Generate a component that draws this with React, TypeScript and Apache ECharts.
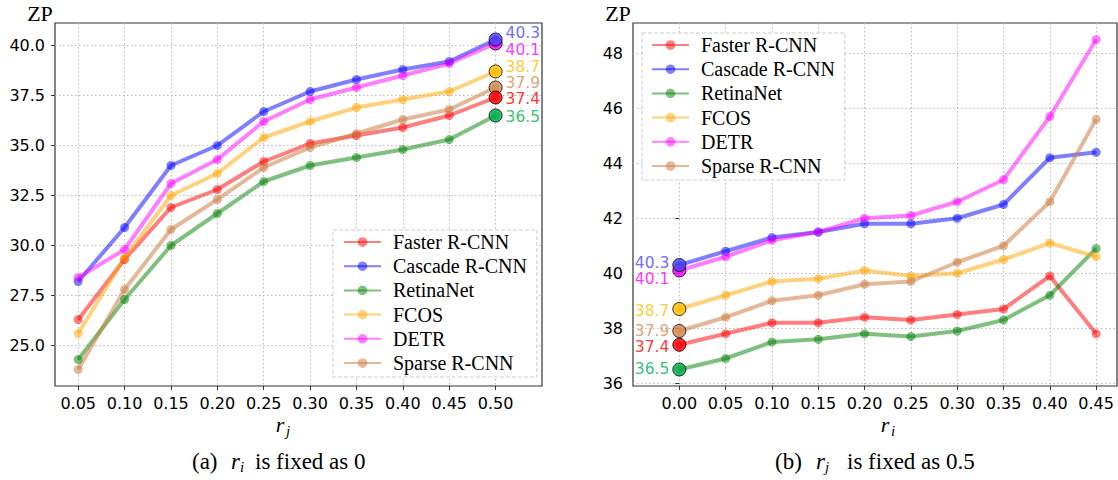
import React, { useEffect, useRef } from "react";
import * as echarts from "echarts";

const seriesNames = ["Faster R-CNN", "Cascade R-CNN", "RetinaNet", "FCOS", "DETR", "Sparse R-CNN"];

const xLeft = [0.05, 0.1, 0.15, 0.2, 0.25, 0.3, 0.35, 0.4, 0.45, 0.5];
const xRight = [0.0, 0.05, 0.1, 0.15, 0.2, 0.25, 0.3, 0.35, 0.4, 0.45];

const leftFaster = [26.3, 29.3, 31.9, 32.8, 34.2, 35.1, 35.5, 35.9, 36.5, 37.4];
const leftCascade = [28.2, 30.9, 34.0, 35.0, 36.7, 37.7, 38.3, 38.8, 39.2, 40.3];
const leftRetina = [24.3, 27.3, 30.0, 31.6, 33.2, 34.0, 34.4, 34.8, 35.3, 36.5];
const leftFcos = [25.6, 29.4, 32.5, 33.6, 35.4, 36.2, 36.9, 37.3, 37.7, 38.7];
const leftDetr = [28.4, 29.8, 33.1, 34.3, 36.2, 37.3, 37.9, 38.5, 39.1, 40.1];
const leftSparse = [23.8, 27.8, 30.8, 32.3, 33.9, 34.9, 35.6, 36.3, 36.8, 37.9];

const rightFaster = [37.4, 37.8, 38.2, 38.2, 38.4, 38.3, 38.5, 38.7, 39.9, 37.8];
const rightCascade = [40.3, 40.8, 41.3, 41.5, 41.8, 41.8, 42.0, 42.5, 44.2, 44.4];
const rightRetina = [36.5, 36.9, 37.5, 37.6, 37.8, 37.7, 37.9, 38.3, 39.2, 40.9];
const rightFcos = [38.7, 39.2, 39.7, 39.8, 40.1, 39.9, 40.0, 40.5, 41.1, 40.6];
const rightDetr = [40.1, 40.6, 41.2, 41.5, 42.0, 42.1, 42.6, 43.4, 45.7, 48.5];
const rightSparse = [37.9, 38.4, 39.0, 39.2, 39.6, 39.7, 40.4, 41.0, 42.6, 45.6];

const yTicksLeft = [25, 27.5, 30, 32.5, 35, 37.5, 40];
const yTicksRight = [36, 38, 40, 42, 44, 46, 48];
const xTicksLeft = [0.05, 0.1, 0.15, 0.2, 0.25, 0.3, 0.35, 0.4, 0.45, 0.5];
const xTicksRight = [0.0, 0.05, 0.1, 0.15, 0.2, 0.25, 0.3, 0.35, 0.4, 0.45];

const leftData = [leftFaster, leftCascade, leftRetina, leftFcos, leftDetr, leftSparse];
const rightData = [rightFaster, rightCascade, rightRetina, rightFcos, rightDetr, rightSparse];

const lineColors = [
  "rgba(255,0,0,0.5)",
  "rgba(0,0,255,0.5)",
  "rgba(0,128,0,0.5)",
  "rgba(255,165,0,0.5)",
  "rgba(255,0,255,0.5)",
  "rgba(205,128,70,0.55)",
];
const markerColors = ["#ff0000", "#4646ff", "#00b050", "#ffc000", "#ff00ff", "#d68b52"];

// draw order of the highlighted markers (later on top)
const highlightOrder = [4, 5, 3, 2, 1, 0];
const leftLabelDy = [1.8, -6.4, 1.6, -4.8, 6, -4.8];
const rightLabelDy = [2, -2.4, -0.5, 1.7, 8, -0.2];

const SERIF = '"Liberation Serif", "Times New Roman", serif';
const SANS = '"DejaVu Sans", sans-serif';

function buildOption() {
  const lines = (xs: number[], data: number[][], idx: number) =>
    seriesNames.map((name, k) => ({
      type: "line",
      name,
      xAxisIndex: idx,
      yAxisIndex: idx,
      data: xs.map((x, i) => [x, data[k][i]]),
      symbol: "circle",
      symbolSize: 9,
      showSymbol: true,
      lineStyle: { width: 4, color: lineColors[k] },
      itemStyle: { color: lineColors[k] },
      emphasis: { disabled: true },
      z: 2,
    }));

  const highlight = (x: number, data: number[][], pick: number, idx: number, pos: string, dys: number[]) => ({
    type: "scatter",
    xAxisIndex: idx,
    yAxisIndex: idx,
    symbol: "circle",
    symbolSize: 13,
    z: 5,
    emphasis: { disabled: true },
    data: highlightOrder.map((k) => ({
      value: [x, data[k][pick]],
      itemStyle: { color: markerColors[k], borderColor: "#000", borderWidth: 1 },
      label: {
        show: true,
        position: pos,
        distance: 3,
        offset: [0, dys[k]],
        formatter: data[k][pick].toFixed(1),
        color: markerColors[k],
        fontFamily: SANS,
        fontSize: 15.5,
        lineHeight: 14,
      },
    })),
  });

  const xAxis = (idx: number, min: number, max: number, ticks: number[]) => ({
    type: "value",
    gridIndex: idx,
    min,
    max,
    axisLine: { show: false },
    axisTick: { show: true, length: 4, customValues: ticks, lineStyle: { color: "#333", width: 1 } },
    axisLabel: {
      customValues: ticks,
      margin: 9,
      color: "#000",
      fontFamily: SANS,
      fontSize: 16,
      formatter: (v: number) => v.toFixed(2),
    },
    splitLine: { show: true, lineStyle: { color: "#b8b8b8", type: [1.5, 2.5], width: 1 } },
  });

  const yAxis = (idx: number, min: number, max: number, ticks: number[], dec: number) => ({
    type: "value",
    gridIndex: idx,
    min,
    max,
    axisLine: { show: false },
    axisTick: { show: true, length: 4, customValues: ticks, lineStyle: { color: "#333", width: 1 } },
    axisLabel: {
      customValues: ticks,
      margin: 10,
      color: "#000",
      fontFamily: SANS,
      fontSize: 16,
      formatter: (v: number) => v.toFixed(dec),
    },
    splitLine: { show: true, lineStyle: { color: "#b8b8b8", type: [1.5, 2.5], width: 1 } },
  });

  const legendBase = {
    orient: "vertical",
    data: seriesNames,
    itemWidth: 37,
    itemHeight: 12,
    itemGap: 4.2,
    selectedMode: false,
    backgroundColor: "#fff",
    borderColor: "#cccccc",
    borderWidth: 1,
    borderType: "dashed",
    textStyle: { fontFamily: SERIF, fontSize: 20, color: "#000", lineHeight: 20, padding: [0, 0, 0, 7] },
  };

  const txt = (text: string, x: number, y: number, size: number, italic = false, align = "left") => ({
    type: "text",
    x,
    y,
    z: 10,
    style: {
      text,
      fill: "#000",
      fontFamily: SERIF,
      fontSize: size,
      fontStyle: italic ? "italic" : "normal",
      font: `${italic ? "italic " : ""}${size}px ${SERIF}`,
      align,
      verticalAlign: "middle",
    },
  });

  return {
    animation: false,
    backgroundColor: "#fff",
    grid: [
      { left: 55, top: 23, width: 487, height: 363, show: true, borderColor: "#333", borderWidth: 1.2, backgroundColor: "transparent" },
      { left: 633, top: 23, width: 484, height: 363, show: true, borderColor: "#333", borderWidth: 1.2, backgroundColor: "transparent" },
    ],
    xAxis: [xAxis(0, 0.025, 0.55, xTicksLeft), xAxis(1, -0.05, 0.4725, xTicksRight)],
    yAxis: [yAxis(0, 22.975, 41.125, yTicksLeft, 1), yAxis(1, 35.9, 49.1, yTicksRight, 0)],
    legend: [
      { ...legendBase, left: 333, top: 230, padding: [2, 10, 4, 10] },
      { ...legendBase, left: 642, top: 33, padding: [2, 10, 4, 9] },
    ],
    series: [
      ...lines(xLeft, leftData, 0),
      ...lines(xRight, rightData, 1),
      highlight(xLeft[xLeft.length - 1], leftData, xLeft.length - 1, 0, "right", leftLabelDy),
      highlight(xRight[0], rightData, 0, 1, "left", rightLabelDy),
    ],
    graphic: [
      txt("ZP", 40, 13, 22, false, "center"),
      txt("ZP", 618, 13, 22, false, "center"),
      txt("r", 280, 424, 22, true, "center"),
      txt("j", 286, 431, 15, true, "left"),
      txt("r", 885, 424, 22, true, "center"),
      txt("i", 891, 431, 15, true, "left"),
      txt("(a)", 192, 461, 23),
      txt("r", 231, 461, 23, true),
      txt("i", 240, 467, 15, true),
      txt("is fixed as", 255, 461, 23),
      txt("0", 354, 461, 23),
      txt("(b)", 775, 461, 23),
      txt("r", 816, 461, 23, true),
      txt("j", 825, 467, 15, true),
      txt("is fixed as", 847, 461, 23),
      txt("0.5", 946, 461, 23),
    ],
  };
}

export default function App() {
  const ref = useRef<HTMLDivElement>(null);
  useEffect(() => {
    if (!ref.current) return;
    const chart = echarts.init(ref.current, undefined, { renderer: "svg" });
    chart.setOption(buildOption() as any);
    return () => chart.dispose();
  }, []);
  return <div ref={ref} style={{ position: "absolute", left: 0, top: 0, width: 1118, height: 480 }} />;
}
